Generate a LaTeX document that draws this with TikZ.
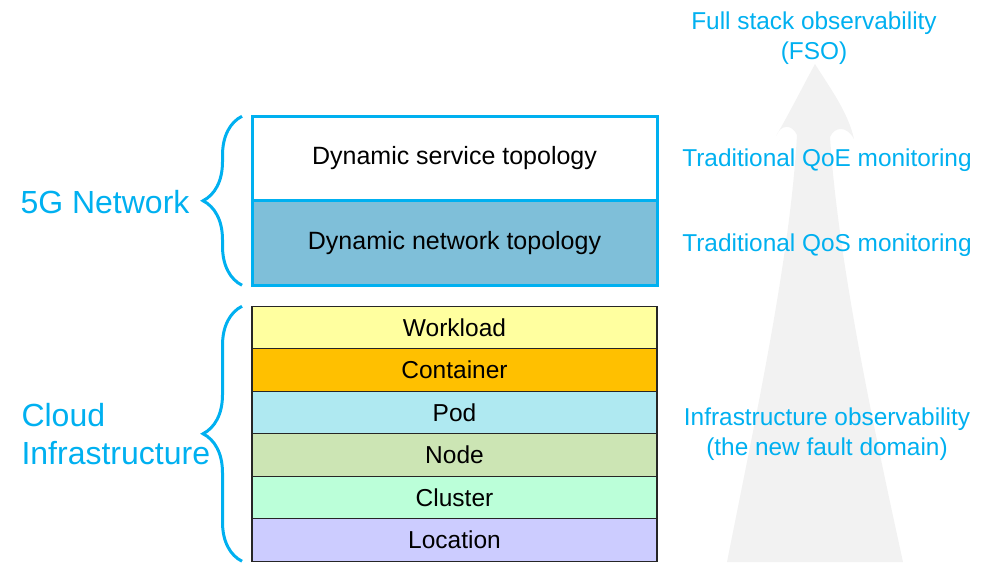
\documentclass[tikz,border=0pt]{standalone}
\usepackage{fontspec}
\setmainfont{Liberation Sans}
\usetikzlibrary{positioning,decorations.pathreplacing}
\definecolor{fsoblue}{HTML}{00B0F0}
\definecolor{arrowgray}{HTML}{F2F2F2}
\definecolor{netblue}{HTML}{7FBFD9}
\definecolor{workload}{HTML}{FFFF9F}
\definecolor{container}{HTML}{FFC000}
\definecolor{pod}{HTML}{AFE9F1}
\definecolor{nodegreen}{HTML}{CCE5B4}
\definecolor{cluster}{HTML}{BBFFD9}
\definecolor{location}{HTML}{CCCCFF}

\begin{document}
\begin{tikzpicture}
			[x=1pt,y=-1pt,
			 topo/.style={draw=fsoblue,line width=3pt,minimum width=405pt,minimum height=84.5pt,inner sep=0pt,outer sep=0pt,font=\fontsize{25}{30}\selectfont},
			 layer/.style={draw=black!85,line width=1.3pt,minimum width=405pt,minimum height=42.5pt,inner sep=0pt,outer sep=0pt,font=\fontsize{24.5}{29}\selectfont},
			 note/.style={text=fsoblue,align=center,font=\fontsize{24.4}{30}\selectfont},
			 group/.style={text=fsoblue,align=left,anchor=west,font=\fontsize{32}{38}\selectfont},
			 curly/.style={draw=fsoblue,line width=3pt,decorate,decoration={brace,amplitude=39pt}}]

			\useasboundingbox (0,0) rectangle (988,570);

			% background arrow
			\fill[arrowgray] (727,562) .. controls (755,420) and (790,260) .. (797,135)
				.. controls (792,124) and (781,124) .. (776,136)
				.. controls (790,112) and (804,84) .. (815,64)
				.. controls (830,88) and (848,112) .. (854,139)
				.. controls (847,126) and (835,126) .. (830,137)
				.. controls (838,260) and (872,420) .. (903,562) -- cycle;

			\node[topo] (S) at (454.5,158.5) {Dynamic service topology};
			\node[topo,fill=netblue,below=0pt of S] (N) {Dynamic network topology};

			\node[layer,fill=workload] (W) at (454.5,327.5) {Workload};
			\node[layer,fill=container,below=0pt of W] (C) {Container};
			\node[layer,fill=pod,below=0pt of C] (P) {Pod};
			\node[layer,fill=nodegreen,below=0pt of P] (D) {Node};
			\node[layer,fill=cluster,below=0pt of D] (K) {Cluster};
			\node[layer,fill=location,below=0pt of K] (L) {Location};

			\node[group] (G) at (17,202) {5G Network};
			\node[group] (I) at (18,434) {Cloud\\Infrastructure};

			\node[note] (FSO) at (814,38) {Full stack observability\\(FSO)};
			\node[note] (QoE) at (827,160) {Traditional QoE monitoring};
			\node[note] (QoS) at (827,245) {Traditional QoS monitoring};
			\node[note] (IO) at (827,434) {Infrastructure observability\\(the new fault domain)};

			\draw[curly] ([xshift=-10pt]N.south west) -- ([xshift=-10pt]S.north west);
			\draw[curly] ([xshift=-10pt]L.south west) -- ([xshift=-10pt]W.north west);
		\end{tikzpicture}
\end{document}
